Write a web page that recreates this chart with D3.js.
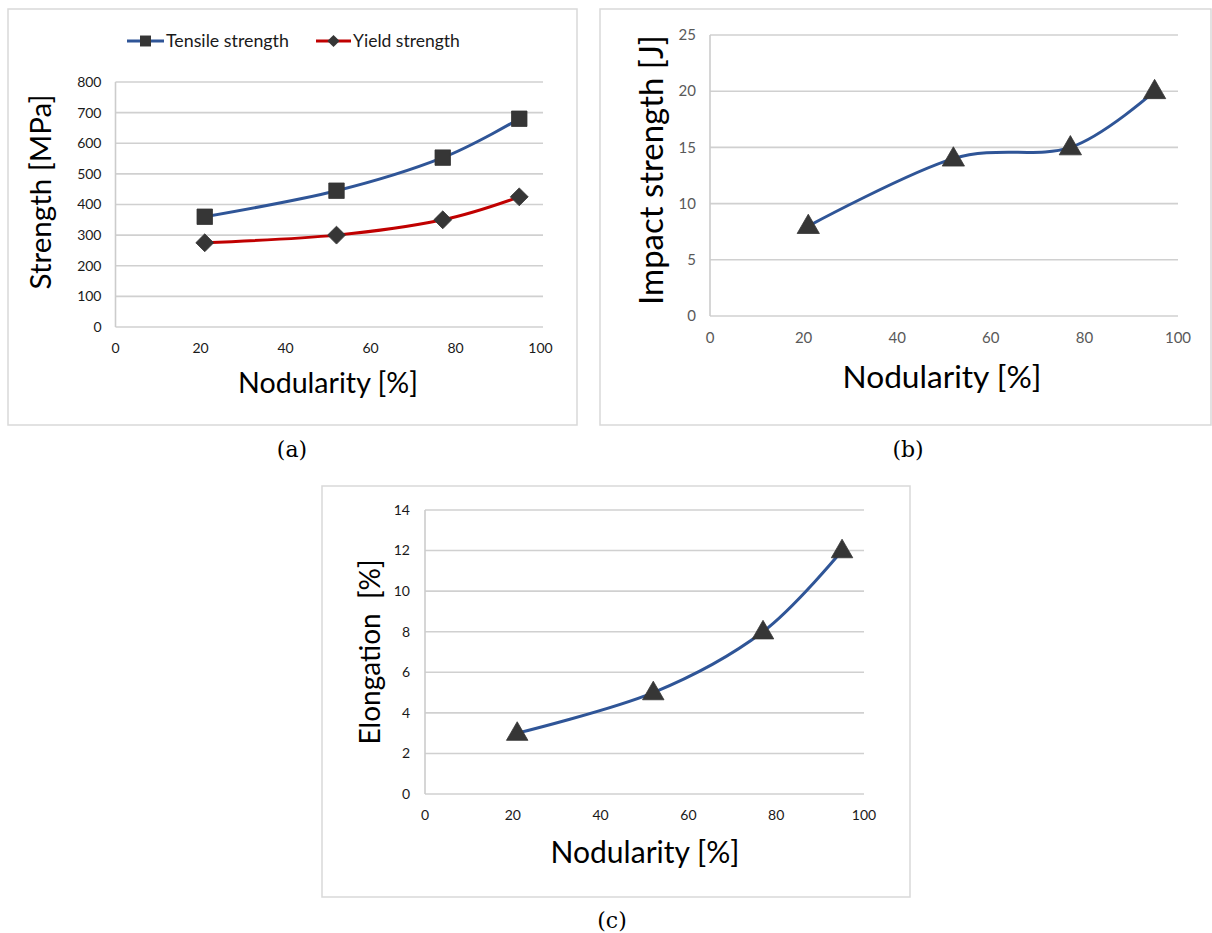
<!DOCTYPE html>
<html><head><meta charset="utf-8">
<script src="https://cdn.jsdelivr.net/npm/d3@7"></script>
<style>body{margin:0;background:#fff}svg{display:block}</style>
</head><body>
<script>
// ---- data ----
const nodularity = [21, 52, 77, 95];
const tensileStrength = [360, 445, 553, 680];
const yieldStrength = [275, 300, 350, 425];
const impactStrength = [8, 14, 15, 20];
const elongation = [3, 5, 8, 12];
const xTicks = [0, 20, 40, 60, 80, 100];
const strengthTicks = [0, 100, 200, 300, 400, 500, 600, 700, 800];
const impactTicks = [0, 5, 10, 15, 20, 25];
const elongTicks = [0, 2, 4, 6, 8, 10, 12, 14];
const legendLabels = ["Tensile strength", "Yield strength"];
const captions = ["(a)", "(b)", "(c)"];

const W = 1212, H = 933;
const svg = d3.select("body").append("svg").attr("width", W).attr("height", H);
const FONT = "Lato, 'Open Sans', sans-serif";

function fitText(t, target) {
  const fs = parseFloat(t.attr("font-size"));
  const len = t.node().getComputedTextLength();
  t.attr("font-size", fs * target / len);
}

function panel(cfg) {
  const g = svg.append("g");
  g.append("rect").attr("x", cfg.frame[0]).attr("y", cfg.frame[1])
    .attr("width", cfg.frame[2] - cfg.frame[0]).attr("height", cfg.frame[3] - cfg.frame[1])
    .attr("fill", "#fff").attr("stroke", "#d9d9d9").attr("stroke-width", 1.5);
  const x = d3.scaleLinear().domain([0, 100]).range([cfg.plot[0], cfg.plot[1]]);
  const y = d3.scaleLinear().domain(cfg.yDomain).range([cfg.plot[3], cfg.plot[2]]);
  const gx2 = x(100) + (cfg.gridExt || 0);
  g.append("g").selectAll("line").data(cfg.yTicks).join("line")
    .attr("x1", x(0)).attr("x2", gx2).attr("y1", d => y(d)).attr("y2", d => y(d))
    .attr("stroke", "#d0d0d0").attr("stroke-width", 1.6);
  g.append("line").attr("x1", x(0)).attr("x2", x(0)).attr("y1", y(cfg.yDomain[0])).attr("y2", y(cfg.yDomain[1]))
    .attr("stroke", "#cccccc").attr("stroke-width", 1.6);
  g.append("g").selectAll("text").data(cfg.yTicks).join("text")
    .attr("x", x(0) - cfg.yLabOff).attr("y", d => y(d)).attr("dy", "0.35em")
    .attr("text-anchor", "end").attr("font-family", FONT).attr("font-size", cfg.tickFs)
    .attr("fill", cfg.tickColor).text(d => d);
  g.append("g").selectAll("text").data(xTicks).join("text")
    .attr("x", d => x(d)).attr("y", y(cfg.yDomain[0]) + cfg.xLabOff).attr("dy", "0.35em")
    .attr("text-anchor", "middle").attr("font-family", FONT).attr("font-size", cfg.tickFs)
    .attr("fill", cfg.tickColor).text(d => d);
  const xt = g.append("text").attr("x", cfg.xTitle[0]).attr("y", cfg.xTitle[1]).attr("dy", "0.35em")
    .attr("text-anchor", "middle").attr("font-family", FONT).attr("font-size", 24).attr("fill", "#000")
    .text(cfg.xTitle[2]);
  fitText(xt, cfg.xTitle[3]);
  const yt = g.append("text").attr("transform", `translate(${cfg.yTitle[0]},${cfg.yTitle[1]}) rotate(-90)`)
    .attr("dy", "0.35em").attr("text-anchor", "middle").attr("font-family", FONT).attr("font-size", 24)
    .attr("fill", "#000").style("white-space", "pre").text(cfg.yTitle[2]);
  fitText(yt, cfg.yTitle[3]);
  cfg.series.forEach(s => {
    const pts = nodularity.map((n, i) => [n, s.values[i]]);
    g.append("path").datum(pts)
      .attr("d", d3.line().x(d => x(d[0])).y(d => y(d[1])).curve(d3.curveCatmullRom.alpha(0)))
      .attr("fill", "none").attr("stroke", s.color).attr("stroke-width", 3);
    g.append("g").selectAll("path").data(pts).join("path")
      .attr("transform", d => `translate(${x(d[0])},${y(d[1]) + (s.dy || 0)}) rotate(${s.rot || 0})`)
      .attr("d", d3.symbol().type(s.symbol).size(s.size))
      .attr("fill", "#363636").attr("stroke", "#363636").attr("stroke-width", 0.8);
  });
  return {x, y, g};
}

// Panel (a)
panel({
  frame: [8, 9, 577, 425], plot: [115.5, 540.5, 82, 327], gridExt: 2.5, yDomain: [0, 800], yTicks: strengthTicks,
  yLabOff: 14, xLabOff: 21, tickFs: 14, tickColor: "#1a1a1a",
  xTitle: [328, 383, "Nodularity [%]", 180], yTitle: [41, 192, "Strength [MPa]", 195],
  series: [
    {values: tensileStrength, color: "#2f5597", symbol: d3.symbolSquare, size: 240},
    {values: yieldStrength, color: "#c00000", symbol: d3.symbolSquare, size: 160, rot: 45}
  ]
});
// legend
const lg = svg.append("g");
const legItems = [
  {x0: 127, x1: 164, label: legendLabels[0], w: 123, color: "#2f5597", rot: 0, size: 120},
  {x0: 316, x1: 351, label: legendLabels[1], w: 107, color: "#c00000", rot: 45, size: 75}
];
legItems.forEach(it => {
  lg.append("line").attr("x1", it.x0).attr("x2", it.x1).attr("y1", 41).attr("y2", 41)
    .attr("stroke", it.color).attr("stroke-width", 3);
  lg.append("path").attr("transform", `translate(${(it.x0 + it.x1) / 2},41) rotate(${it.rot})`)
    .attr("d", d3.symbol().type(d3.symbolSquare).size(it.size)).attr("fill", "#363636");
  const t = lg.append("text").attr("x", it.x1 + 2).attr("y", 41).attr("dy", "0.35em")
    .attr("font-family", FONT).attr("font-size", 16).attr("fill", "#1a1a1a").text(it.label);
  fitText(t, it.w);
});

// Panel (b)
panel({
  frame: [600, 9, 1211, 425], plot: [710, 1178, 35, 316], yDomain: [0, 25], yTicks: impactTicks,
  yLabOff: 14, xLabOff: 22, tickFs: 15, tickColor: "#595959",
  xTitle: [942, 377, "Nodularity [%]", 199], yTitle: [651, 170, "Impact strength [J]", 270],
  series: [{values: impactStrength, color: "#2f5597", symbol: d3.symbolTriangle, size: 215, dy: 1}]
});

// Panel (c)
panel({
  frame: [322, 486, 910, 897], plot: [425, 864, 510, 794], yDomain: [0, 14], yTicks: elongTicks,
  yLabOff: 15, xLabOff: 21, tickFs: 14, tickColor: "#1a1a1a",
  xTitle: [645, 852, "Nodularity [%]", 189], yTitle: [370, 652, "Elongation  [%]", 185],
  series: [{values: elongation, color: "#2f5597", symbol: d3.symbolTriangle, size: 200, dy: 1}]
});

// captions
const capPos = [[292, 449], [908, 449], [612, 920]];
svg.append("g").selectAll("text").data(captions).join("text")
  .attr("x", (d, i) => capPos[i][0]).attr("y", (d, i) => capPos[i][1]).attr("dy", "0.35em")
  .attr("text-anchor", "middle").attr("font-family", "'DejaVu Serif', serif").attr("font-size", 22)
  .attr("fill", "#000").text(d => d);
</script>
</body></html>
